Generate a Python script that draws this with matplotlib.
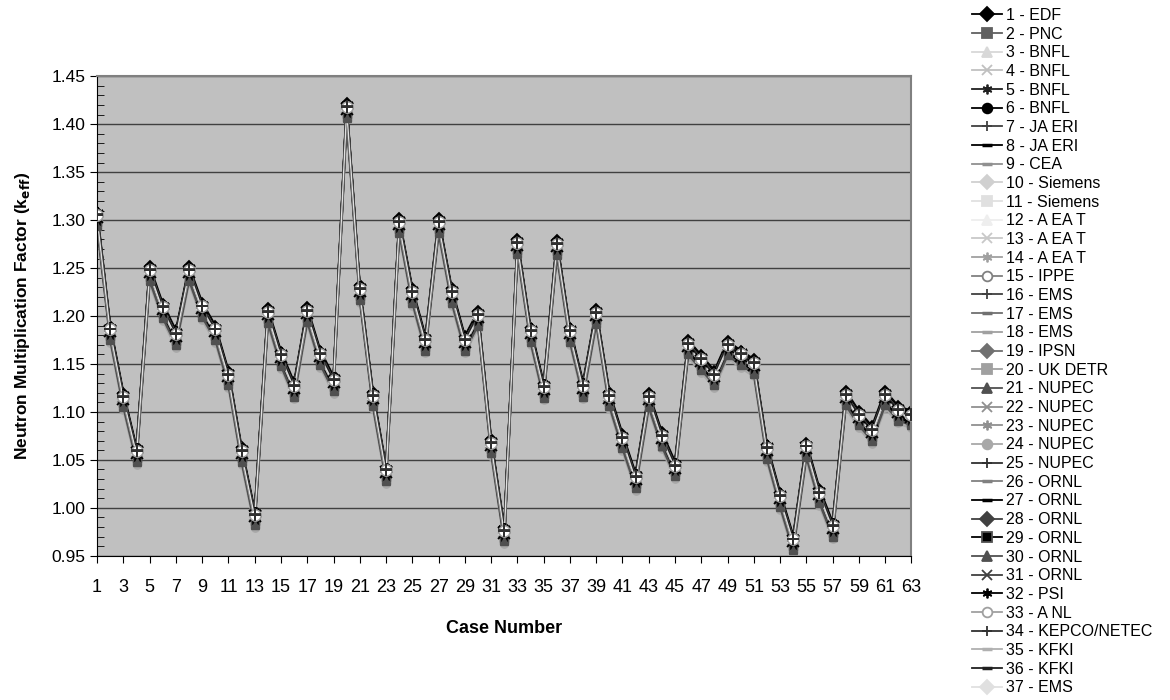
import matplotlib.pyplot as plt
import numpy as np

plt.rcParams['font.family'] = ['Liberation Sans', 'DejaVu Sans']

# Numar caz
cases = np.arange(1, 64)

# k_eff de referinta (valoarea cercului alb)
keff_ref = [1.305, 1.186, 1.116, 1.059, 1.248, 1.209, 1.181, 1.248, 1.210, 1.186,
            1.139, 1.059, 0.993, 1.204, 1.159, 1.127, 1.205, 1.160, 1.133, 1.418,
            1.228, 1.117, 1.039, 1.298, 1.225, 1.175, 1.298, 1.225, 1.175, 1.201,
            1.068, 0.976, 1.276, 1.184, 1.126, 1.275, 1.184, 1.127, 1.203, 1.117,
            1.073, 1.032, 1.116, 1.075, 1.044, 1.171, 1.155, 1.139, 1.170, 1.160,
            1.151, 1.062, 1.012, 0.967, 1.064, 1.016, 0.981, 1.118, 1.097, 1.081,
            1.118, 1.102, 1.097]

# Participanti si abaterea medie fata de referinta
participants = ["1 - EDF", "2 - PNC", "3 - BNFL", "4 - BNFL", "5 - BNFL", "6 - BNFL",
                "7 - JA ERI", "8 - JA ERI", "9 - CEA", "10 - Siemens", "11 - Siemens",
                "12 - A EA T", "13 - A EA T", "14 - A EA T", "15 - IPPE", "16 - EMS",
                "17 - EMS", "18 - EMS", "19 - IPSN", "20 - UK DETR", "21 - NUPEC",
                "22 - NUPEC", "23 - NUPEC", "24 - NUPEC", "25 - NUPEC", "26 - ORNL",
                "27 - ORNL", "28 - ORNL", "29 - ORNL", "30 - ORNL", "31 - ORNL",
                "32 - PSI", "33 - A NL", "34 - KEPCO/NETEC", "35 - KFKI", "36 - KFKI",
                "37 - EMS"]
bias = [0.004, -0.010, -0.004, -0.004, 0.002, -0.005, 0.000, -0.003, -0.006, -0.006,
        -0.005, -0.004, -0.003, -0.004, 0.000, 0.000, -0.006, -0.008, -0.006, -0.008,
        -0.010, -0.006, -0.004, -0.014, 0.001, -0.005, -0.008, -0.002, -0.007, -0.011,
        -0.002, 0.002, 0.000, 0.000, -0.004, -0.001, -0.003]

# Stiluri (marker, culoare linie, culoare fill, culoare margine)
styles = [("D", "#000000", "#000000", "#000000"), ("s", "#606060", "#606060", "#606060"),
          ("^", "#d8d8d8", "#d8d8d8", "#d8d8d8"), ("x", "#c0c0c0", "none", "#c0c0c0"),
          ((6, 2, 0), "#202020", "none", "#202020"), ("o", "#000000", "#000000", "#000000"),
          ("+", "#404040", "none", "#404040"), ("_", "#000000", "none", "#000000"),
          ("_", "#909090", "none", "#909090"), ("D", "#d0d0d0", "#d0d0d0", "#d0d0d0"),
          ("s", "#e0e0e0", "#e0e0e0", "#e0e0e0"), ("^", "#eeeeee", "#eeeeee", "#eeeeee"),
          ("x", "#c8c8c8", "none", "#c8c8c8"), ((6, 2, 0), "#a0a0a0", "none", "#a0a0a0"),
          ("o", "#808080", "#ffffff", "#808080"), ("+", "#404040", "none", "#404040"),
          ("_", "#707070", "none", "#707070"), ("_", "#a0a0a0", "none", "#a0a0a0"),
          ("D", "#707070", "#707070", "#707070"), ("s", "#a0a0a0", "#a0a0a0", "#a0a0a0"),
          ("^", "#505050", "#505050", "#505050"), ("x", "#909090", "none", "#909090"),
          ((6, 2, 0), "#909090", "none", "#909090"), ("o", "#a8a8a8", "#a8a8a8", "#a8a8a8"),
          ("+", "#303030", "none", "#303030"), ("_", "#808080", "none", "#808080"),
          ("_", "#000000", "none", "#000000"), ("D", "#404040", "#404040", "#404040"),
          ("s", "#000000", "#000000", "#505050"), ("^", "#505050", "#505050", "#505050"),
          ("x", "#404040", "none", "#404040"), ((6, 2, 0), "#000000", "none", "#000000"),
          ("o", "#a0a0a0", "#ffffff", "#a0a0a0"), ("+", "#303030", "none", "#303030"),
          ("_", "#b0b0b0", "none", "#b0b0b0"), ("_", "#202020", "none", "#202020"),
          ("D", "#e0e0e0", "#e0e0e0", "#e0e0e0")]

fig = plt.figure(figsize=(11.7, 7.0), dpi=100)
ax = fig.add_axes([0.083, 0.206, 0.696, 0.685])
ax.set_facecolor("#c0c0c0")

ref = np.array(keff_ref)
for name, b, (m, lc, fc, ec) in zip(participants, bias, styles):
    mew = 2.5 if m == "_" else 1.3
    lw = 1.0 if lc in ("#e0e0e0", "#eeeeee") else 1.6
    ax.plot(cases, ref + b, color=lc, lw=lw, marker=m, markersize=5, zorder=2,
            markerfacecolor=fc, markeredgecolor=ec, markeredgewidth=mew, label=name)

# marcajele inchise de jos (patrate, triunghiuri) vizibile sub cercuri
for b, (m, lc, fc, ec) in zip(bias, styles):
    if m in ("s", "^") and lc in ("#000000", "#505050", "#606060"):
        ax.plot(cases, ref + b, ls="none", marker=m, markersize=6, zorder=2.2,
                markerfacecolor=fc, markeredgecolor=ec, markeredgewidth=1)

# asteriscurile negre sub cercurile albe, crucile deasupra
for b, (m, lc, fc, ec) in zip(bias, styles):
    if m in ((6, 2, 0), "x") and lc in ("#000000", "#202020", "#404040"):
        ax.plot(cases, ref + b, ls="none", marker=m, markersize=9, zorder=2.5,
                markeredgecolor="#000000", markeredgewidth=1.3)
for b, (m, lc, fc, ec) in zip(bias, styles):
    if m == "o" and fc == "#ffffff":
        ax.plot(cases, ref + b, ls="none", marker="o", markersize=8, zorder=3,
                markerfacecolor=fc, markeredgecolor=ec, markeredgewidth=1)
for b, (m, lc, fc, ec) in zip(bias, styles):
    if m == "+":
        ax.plot(cases, ref + b, ls="none", marker=m, markersize=8, zorder=3.5,
                markeredgecolor=ec, markeredgewidth=1.3)

ax.set_xlim(1, 63)
ax.set_ylim(0.95, 1.45)
ax.set_xticks(np.arange(1, 64, 2))
ax.set_yticks(np.arange(0.95, 1.451, 0.05))
ax.set_yticks(np.arange(0.95, 1.451, 0.01), minor=True)
ax.yaxis.set_major_formatter(plt.FormatStrFormatter("%.2f"))
ax.tick_params(axis="both", which="major", direction="out", length=5, labelsize=12.5, color="black")
ax.tick_params(axis="x", which="major", pad=12, labelsize=13)
ax.tick_params(axis="y", which="minor", direction="in", length=5, color="black")
ax.grid(axis="y", which="major", color="#404040", lw=1)
ax.set_axisbelow(True)
for s in ["top", "right"]:
    ax.spines[s].set_color("#808080")
    ax.spines[s].set_linewidth(1.5)

ax.set_xlabel("Case Number", fontsize=13, fontweight="bold", labelpad=17)
ax.set_ylabel(r"Neutron Multiplication Factor (k$_{\mathbf{eff}}$)", fontsize=12.5,
              fontweight="bold", labelpad=14)

leg = fig.legend(loc="upper left", bbox_to_anchor=(0.824, 1.0), frameon=False, fontsize=11.5,
                 labelspacing=0.23, borderpad=0.0, handlelength=1.9, handletextpad=0.25)
for h in leg.legend_handles:
    h.set_markersize(7)
    h.set_linewidth(1.3)

plt.savefig("out.png")
